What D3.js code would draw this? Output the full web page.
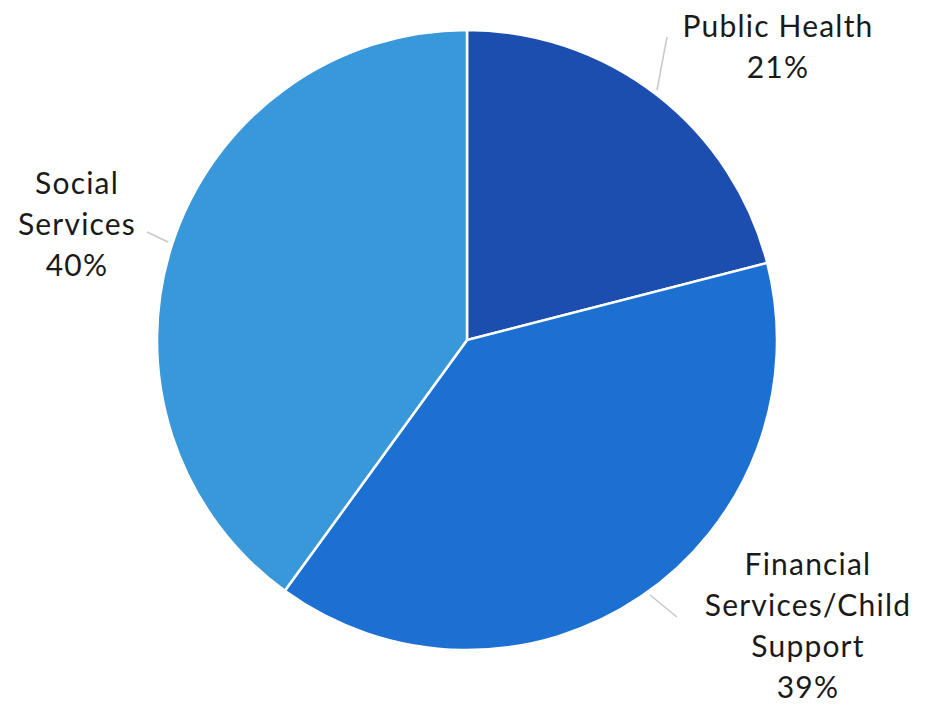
<!DOCTYPE html>
<html><head><meta charset="utf-8">
<script src="https://cdn.jsdelivr.net/npm/d3@7"></script>
<style>body{margin:0;background:#fff}</style>
</head><body>
<svg id="chart" width="930" height="705"></svg>
<script>
const categories = ["Public Health", "Financial Services/Child Support", "Social Services"];
const values = [21, 39, 40];
const labelLines = [["Public Health", "21%"], ["Financial", "Services/Child", "Support", "39%"], ["Social", "Services", "40%"]];
const colors = ["#1b4eae", "#1c70d2", "#3898d9"];

const svg = d3.select("#chart");
const cx = 467, cy = 340, r = 310;
const g = svg.append("g").attr("transform", `translate(${cx},${cy})`);
const pie = d3.pie().sort(null).value(d => d)(values);
const arc = d3.arc().innerRadius(0).outerRadius(r);
g.selectAll("path").data(pie).join("path")
  .attr("d", arc).attr("fill", (d, i) => colors[i])
  .attr("stroke", "#fff").attr("stroke-width", 2.5);

const labelPos = [
  {x: 778, y: 37, l: [[667,37],[657,90]]},
  {x: 808, y: 575, l: [[650,595],[677,617]]},
  {x: 77, y: 194, l: [[147,232],[168,242]]}
];
labelPos.forEach((p, i) => {
  svg.append("line").attr("x1", p.l[0][0]).attr("y1", p.l[0][1])
    .attr("x2", p.l[1][0]).attr("y2", p.l[1][1])
    .attr("stroke", "#c8c8c8").attr("stroke-width", 1.5);
  const t = svg.append("text").attr("text-anchor", "middle")
    .attr("font-family", "Lato, 'Open Sans', sans-serif").attr("font-size", 30)
    .attr("letter-spacing", 1.2)
    .attr("fill", "#1a1a1a");
  labelLines[i].forEach((s, j) => {
    t.append("tspan").attr("x", p.x).attr("y", p.y + j * 41).text(s);
  });
});
</script>
</body></html>
